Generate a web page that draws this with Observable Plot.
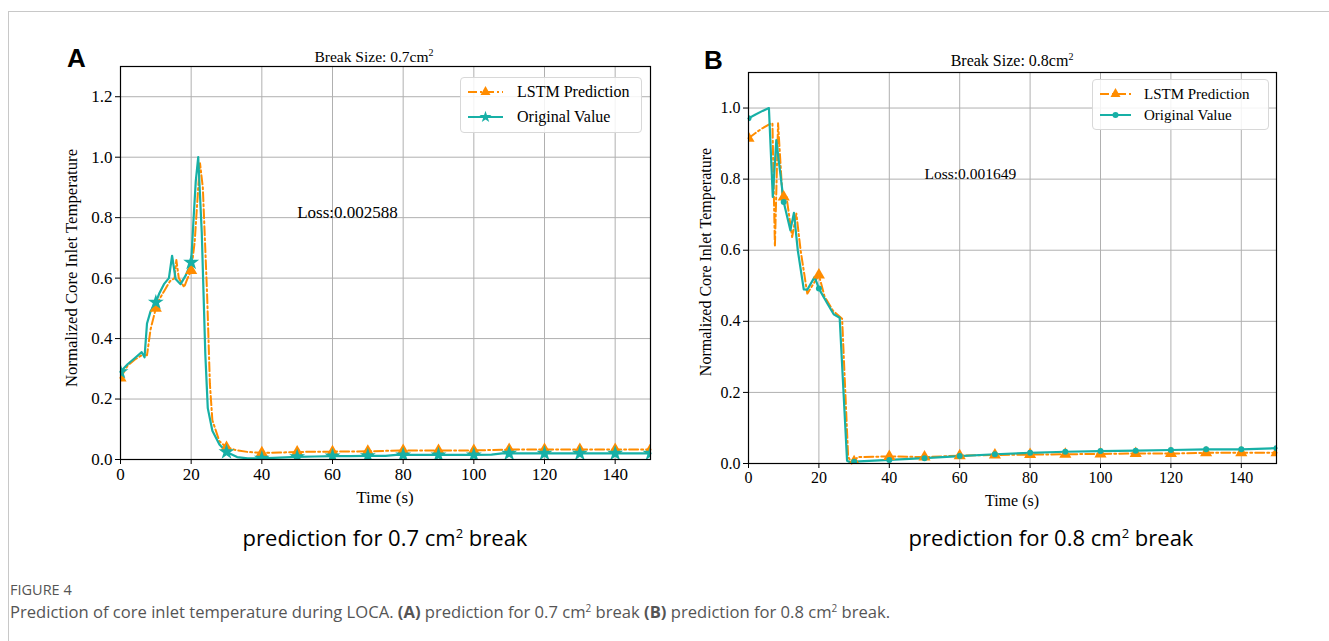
<!DOCTYPE html>
<html><head><meta charset="utf-8">
<script src="https://cdn.jsdelivr.net/npm/d3@7"></script>
<script src="https://cdn.jsdelivr.net/npm/@observablehq/plot@0.6"></script>
<style>
html,body{margin:0;padding:0;background:#fff;}
body{width:1329px;height:641px;overflow:hidden;position:relative;font-family:"Liberation Serif",serif;}
#frame{position:absolute;left:8px;top:11px;width:2000px;height:2000px;border-top:1px solid #c8c8c8;border-left:1px solid #c8c8c8;}
.panel{position:absolute;top:0;}
.legend{position:absolute;background:rgba(255,255,255,0.85);border:1px solid #d8d8d8;border-radius:4px;font-family:"Liberation Serif",serif;color:#000;}
.legend .row{position:absolute;left:0;display:flex;align-items:center;white-space:nowrap;}
#overlay{position:absolute;left:0;top:0;}
</style></head><body>
<div id="frame"></div>
<div id="panelA" class="panel" style="left:0px"></div>
<div id="panelB" class="panel" style="left:660px"></div>
<div id="legA" class="legend" style="left:460px;top:77px;width:180px;height:54px"></div>
<div id="legB" class="legend" style="left:1092px;top:79px;width:175px;height:49px"></div>
<svg id="overlay" width="1329" height="641"></svg>
<script>
// ---------- data ----------
const xTicks = [0, 20, 40, 60, 80, 100, 120, 140];
const yTicksA = [0, 0.2, 0.4, 0.6, 0.8, 1.0, 1.2];
const yTicksB = [0, 0.2, 0.4, 0.6, 0.8, 1.0];
const seriesNames = ["LSTM Prediction", "Original Value"];
const colors = ["#ff8c00", "#17b0a6"];

// Panel A: 0.7 cm2 break
const timeA_orig = [0, 2, 4, 6, 6.8, 7.5, 8.5, 10, 11, 12.3, 13.7, 14.6, 15.6, 17, 18.5, 20, 20.6, 21.3, 22, 23, 24, 24.7, 26, 28, 30, 33, 36, 40, 45, 50, 55, 60, 65, 70, 75, 78, 80, 90, 100, 105, 108, 110, 120, 130, 140, 150];
const valA_orig  = [0.29, 0.315, 0.335, 0.355, 0.338, 0.45, 0.49, 0.52, 0.55, 0.58, 0.60, 0.674, 0.597, 0.58, 0.61, 0.652, 0.78, 0.92, 1.0, 0.75, 0.35, 0.17, 0.095, 0.05, 0.025, 0.008, 0.004, 0.004, 0.006, 0.009, 0.01, 0.011, 0.011, 0.012, 0.012, 0.015, 0.015, 0.015, 0.015, 0.016, 0.02, 0.02, 0.02, 0.02, 0.02, 0.02];
const timeA_pred = [0, 2, 4, 6, 7.5, 8.5, 10, 11, 12.5, 14, 15.3, 15.8, 16.5, 18, 19, 20, 21, 22, 22.5, 23.3, 24.5, 25.3, 26, 28, 30, 33, 36, 40, 45, 50, 60, 70, 80, 90, 100, 110, 120, 130, 140, 150];
const valA_pred  = [0.27, 0.31, 0.33, 0.345, 0.345, 0.43, 0.50, 0.53, 0.56, 0.59, 0.60, 0.66, 0.60, 0.57, 0.60, 0.625, 0.72, 0.90, 0.98, 0.90, 0.55, 0.25, 0.13, 0.06, 0.04, 0.03, 0.025, 0.022, 0.023, 0.025, 0.026, 0.027, 0.03, 0.03, 0.03, 0.033, 0.033, 0.033, 0.033, 0.033];

// Panel B: 0.8 cm2 break
const timeB_orig = [0, 2, 4, 5.8, 6.9, 7.9, 10, 11.9, 12.9, 14, 15.7, 16.7, 18.8, 20, 22.4, 24.2, 25.9, 28, 29, 30, 40, 50, 60, 70, 80, 90, 100, 110, 120, 130, 140, 150];
const valB_orig  = [0.971, 0.982, 0.992, 1.0, 0.75, 0.91, 0.736, 0.656, 0.705, 0.60, 0.49, 0.489, 0.525, 0.492, 0.45, 0.42, 0.41, 0.008, 0.003, 0.005, 0.01, 0.015, 0.021, 0.026, 0.03, 0.033, 0.035, 0.036, 0.038, 0.04, 0.04, 0.043];
const timeB_pred = [0, 2, 3.9, 6.4, 6.8, 7.5, 8.4, 9.6, 10, 10.8, 12.4, 13.6, 14.8, 16.7, 18.1, 20, 21.6, 24, 26.6, 28.3, 29.3, 30, 31, 40, 50, 60, 70, 80, 90, 100, 110, 120, 130, 140, 150];
const valB_pred  = [0.915, 0.93, 0.943, 0.957, 0.957, 0.61, 0.957, 0.76, 0.75, 0.75, 0.637, 0.703, 0.60, 0.478, 0.50, 0.53, 0.47, 0.43, 0.407, 0.02, 0.0, 0.005, 0.018, 0.02, 0.018, 0.022, 0.024, 0.025, 0.026, 0.027, 0.028, 0.028, 0.03, 0.03, 0.03];

const lossA = "Loss:0.002588";
const lossB = "Loss:0.001649";

// ---------- helpers ----------
const zip = (ts, vs) => ts.map((t, i) => ({t, v: vs[i]}));
const every10 = d => d.t % 10 === 0;

function panel({orig, pred, yDomain, yTicks, width, height, mL, mR, mT, mB, fontSize, origSymbol, origR, loss, lossSize}) {
  return Plot.plot({
    width, height, marginLeft: mL, marginRight: mR, marginTop: mT, marginBottom: mB,
    x: {domain: [0, 150]},
    y: {domain: yDomain},
    style: {fontFamily: "Liberation Serif, serif", fontSize: fontSize + "px", color: "#000", background: "transparent", overflow: "visible"},
    marks: [
      Plot.gridX(xTicks, {stroke: "#b0b0b0", strokeOpacity: 1, strokeWidth: 1}),
      Plot.gridY(yTicks, {stroke: "#b0b0b0", strokeOpacity: 1, strokeWidth: 1}),
      Plot.axisX(xTicks, {tickSize: 5, tickPadding: 3, tickFormat: d => String(d), label: null, fontSize}),
      Plot.axisY(yTicks, {tickSize: 5, tickPadding: 3, tickFormat: d3.format(".1f"), label: null, fontSize}),
      Plot.text([{t: 50, v: 0.8, s: loss}], {x: "t", y: "v", text: "s", textAnchor: "start", lineAnchor: "bottom", fontSize: lossSize, fill: "#000"}),
      Plot.lineY(pred, {x: "t", y: "v", stroke: colors[0], strokeWidth: 2, strokeDasharray: "9,3,2,3"}),
      Plot.lineY(orig, {x: "t", y: "v", stroke: colors[1], strokeWidth: 2.2}),
      Plot.dot(pred.filter(every10), {x: "t", y: "v", symbol: "triangle", r: 4.5, fill: colors[0], stroke: "none", clip: true}),
      Plot.dot(orig.filter(every10), {x: "t", y: "v", symbol: origSymbol, r: origR, fill: colors[1], stroke: "none", clip: true}),
      Plot.frame({stroke: "#000", strokeWidth: 1.2})
    ]
  });
}

document.getElementById("panelA").appendChild(panel({
  orig: zip(timeA_orig, valA_orig), pred: zip(timeA_pred, valA_pred),
  yDomain: [0, 1.3], yTicks: yTicksA, width: 680, height: 500,
  mL: 120, mR: 30, mT: 66, mB: 41, fontSize: 17, origSymbol: "star", origR: 5, loss: lossA, lossSize: 17
}));
document.getElementById("panelB").appendChild(panel({
  orig: zip(timeB_orig, valB_orig), pred: zip(timeB_pred, valB_pred),
  yDomain: [0, 1.1], yTicks: yTicksB, width: 660, height: 500,
  mL: 88, mR: 44, mT: 72, mB: 37, fontSize: 16, origSymbol: "circle", origR: 3, loss: lossB, lossSize: 15.5
}));

// ---------- legends ----------
function legend(el, symbols, rowsY, fontSize, lineX0, lineX1, textX) {
  seriesNames.forEach((name, i) => {
    const row = document.createElement("div");
    row.className = "row";
    row.style.top = (rowsY[i] - 10) + "px";
    row.style.height = "20px";
    const sym = symbols[i];
    const mid = (lineX0 + lineX1) / 2;
    let marker = "";
    if (sym === "triangle") marker = `<path d="M${mid},4 L${mid+5},13 L${mid-5},13 Z" fill="${colors[i]}"/>`;
    else if (sym === "star") marker = `<path d="${d3.symbol(d3.symbolStar, 45)()}" transform="translate(${mid},10)" fill="${colors[i]}"/>`;
    else marker = `<circle cx="${mid}" cy="10" r="3" fill="${colors[i]}"/>`;
    const dash = i === 0 ? 'stroke-dasharray="9,3,2,3"' : '';
    row.innerHTML = `<svg width="${textX}" height="20" style="flex:none"><line x1="${lineX0}" x2="${lineX1}" y1="10" y2="10" stroke="${colors[i]}" stroke-width="2" ${dash}/>${marker}</svg><span style="font-size:${fontSize}px;line-height:20px">${name}</span>`;
    el.appendChild(row);
  });
}
legend(document.getElementById("legA"), ["triangle", "star"], [14, 39], 16, 7, 42, 56);
legend(document.getElementById("legB"), ["triangle", "circle"], [14, 35], 15, 7, 38, 51);

// ---------- overlay texts ----------
const svg = d3.select("#overlay");
function sup(g, x, y, main, attrs, supSize) {
  const t = g.append("text").attr("x", x).attr("y", y);
  Object.entries(attrs).forEach(([k, v]) => t.attr(k, v));
  main.forEach(part => {
    if (part.sup) t.append("tspan").attr("font-size", supSize).attr("dy", -supSize * 0.6).text(part.text);
    else if (part.after) t.append("tspan").attr("dy", supSize * 0.6).text(part.text);
    else t.append("tspan").attr("font-weight", part.bold ? "bold" : null).text(part.text);
  });
  return t;
}
const serif = {"font-family": "Liberation Serif, serif", fill: "#000"};
svg.append("text").attr("x", 67).attr("y", 67).attr("font-family", "Liberation Sans, Arial, sans-serif").attr("font-weight", "bold").attr("font-size", 26).text("A");
svg.append("text").attr("x", 704).attr("y", 69).attr("font-family", "Liberation Sans, Arial, sans-serif").attr("font-weight", "bold").attr("font-size", 26).text("B");

sup(svg, 374, 62, [{text: "Break Size: 0.7cm"}, {text: "2", sup: true}], {...serif, "font-size": 15.5, "text-anchor": "middle"}, 10);
sup(svg, 1012, 66, [{text: "Break Size: 0.8cm"}, {text: "2", sup: true}], {...serif, "font-size": 16, "text-anchor": "middle"}, 10);

svg.append("text").attr("transform", "translate(77,268) rotate(-90)").attr("text-anchor", "middle").attr("font-family", "Liberation Serif, serif").attr("font-size", 16.7).text("Normalized Core Inlet Temperature");
svg.append("text").attr("transform", "translate(711,262) rotate(-90)").attr("text-anchor", "middle").attr("font-family", "Liberation Serif, serif").attr("font-size", 16).text("Normalized Core Inlet Temperature");

svg.append("text").attr("x", 385).attr("y", 503).attr("text-anchor", "middle").attr("font-family", "Liberation Serif, serif").attr("font-size", 17).text("Time (s)");
svg.append("text").attr("x", 1012).attr("y", 506).attr("text-anchor", "middle").attr("font-family", "Liberation Serif, serif").attr("font-size", 16).text("Time (s)");

const sans = {"font-family": "Open Sans, Noto Sans, sans-serif", fill: "#000"};
sup(svg, 385, 546, [{text: "prediction for 0.7 cm"}, {text: "2", sup: true}, {text: " break", after: true}], {...sans, "font-size": 22, "text-anchor": "middle"}, 13);
sup(svg, 1051, 546, [{text: "prediction for 0.8 cm"}, {text: "2", sup: true}, {text: " break", after: true}], {...sans, "font-size": 22, "text-anchor": "middle"}, 13);

const cap = {"font-family": "Open Sans, Noto Sans, sans-serif", fill: "#555"};
svg.append("text").attr("x", 10).attr("y", 595).attr("font-family", cap["font-family"]).attr("fill", "#555").attr("font-size", 14.5).text("FIGURE 4");
sup(svg, 10, 618, [
  {text: "Prediction of core inlet temperature during LOCA. "},
  {text: "(A)", bold: true},
  {text: " prediction for 0.7 cm"}, {text: "2", sup: true}, {text: " break ", after: true},
  {text: "(B)", bold: true},
  {text: " prediction for 0.8 cm"}, {text: "2", sup: true}, {text: " break.", after: true}
], {...cap, "font-size": 16.6}, 10);
</script>
</body></html>
